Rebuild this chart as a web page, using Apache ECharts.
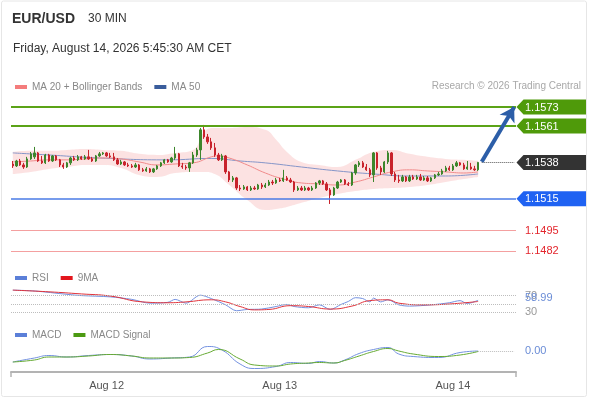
<!DOCTYPE html>
<html><head><meta charset="utf-8">
<script src="https://cdn.jsdelivr.net/npm/echarts@6/dist/echarts.min.js"></script>
<style>html,body{margin:0;padding:0;background:#fff}#c{width:590px;height:400px}</style>
</head><body><div id="c"></div>
<script>
// ---------- DATA ----------
const opens = [
1.15370,1.15358,1.15389,1.15364,1.15351,1.15402,1.15415,1.15440,1.15389,1.15377,
1.15427,1.15389,1.15421,1.15396,1.15364,1.15351,1.15377,1.15408,1.15396,1.15415,
1.15402,1.15415,1.15402,1.15389,1.15421,1.15434,1.15440,1.15421,1.15415,1.15396,
1.15370,1.15383,1.15364,1.15358,1.15351,1.15364,1.15333,1.15326,1.15339,1.15320,
1.15339,1.15358,1.15377,1.15396,1.15383,1.15408,1.15434,1.15358,1.15351,1.15345,
1.15377,1.15427,1.15459,1.15586,1.15541,1.15510,1.15472,1.15427,1.15396,1.15421,
1.15320,1.15269,1.15282,1.15218,1.15212,1.15225,1.15206,1.15218,1.15212,1.15237,
1.15225,1.15237,1.15256,1.15250,1.15269,1.15263,1.15282,1.15269,1.15256,1.15206,
1.15218,1.15206,1.15218,1.15206,1.15218,1.15250,1.15263,1.15244,1.15206,1.15174,
1.15218,1.15256,1.15269,1.15244,1.15237,1.15313,1.15364,1.15377,1.15351,1.15333,
1.15301,1.15440,1.15345,1.15320,1.15383,1.15440,1.15307,1.15269,1.15263,1.15288,
1.15263,1.15288,1.15275,1.15288,1.15269,1.15282,1.15263,1.15282,1.15301,1.15307,
1.15326,1.15345,1.15333,1.15358,1.15377,1.15364,1.15339,1.15351,1.15339,1.15333];
const closes = [
1.15358,1.15389,1.15364,1.15351,1.15402,1.15434,1.15440,1.15389,1.15377,1.15427,
1.15389,1.15421,1.15396,1.15364,1.15351,1.15377,1.15408,1.15396,1.15415,1.15402,
1.15415,1.15402,1.15389,1.15421,1.15434,1.15440,1.15421,1.15415,1.15396,1.15370,
1.15383,1.15364,1.15358,1.15351,1.15364,1.15333,1.15326,1.15339,1.15320,1.15339,
1.15358,1.15377,1.15396,1.15383,1.15408,1.15434,1.15358,1.15351,1.15345,1.15377,
1.15427,1.15459,1.15586,1.15541,1.15510,1.15472,1.15427,1.15396,1.15421,1.15320,
1.15269,1.15282,1.15218,1.15212,1.15225,1.15206,1.15218,1.15212,1.15237,1.15225,
1.15237,1.15256,1.15250,1.15269,1.15263,1.15282,1.15269,1.15256,1.15206,1.15218,
1.15206,1.15218,1.15206,1.15218,1.15250,1.15263,1.15244,1.15206,1.15174,1.15218,
1.15256,1.15269,1.15244,1.15237,1.15313,1.15364,1.15377,1.15351,1.15333,1.15301,
1.15440,1.15345,1.15320,1.15383,1.15440,1.15307,1.15269,1.15263,1.15288,1.15263,
1.15288,1.15275,1.15288,1.15269,1.15282,1.15263,1.15282,1.15301,1.15307,1.15326,
1.15345,1.15333,1.15358,1.15377,1.15364,1.15339,1.15351,1.15339,1.15333,1.15380];
const lows = [
1.15345,1.15351,1.15358,1.15339,1.15345,1.15396,1.15402,1.15383,1.15370,1.15370,
1.15383,1.15383,1.15389,1.15351,1.15339,1.15345,1.15364,1.15389,1.15389,1.15396,
1.15396,1.15396,1.15383,1.15383,1.15415,1.15427,1.15415,1.15408,1.15389,1.15364,
1.15364,1.15358,1.15351,1.15345,1.15345,1.15326,1.15320,1.15320,1.15313,1.15313,
1.15333,1.15351,1.15370,1.15377,1.15377,1.15396,1.15351,1.15339,1.15333,1.15320,
1.15370,1.15415,1.15396,1.15529,1.15497,1.15459,1.15415,1.15389,1.15389,1.15307,
1.15256,1.15256,1.15206,1.15199,1.15206,1.15199,1.15199,1.15206,1.15206,1.15212,
1.15218,1.15231,1.15237,1.15244,1.15256,1.15256,1.15263,1.15250,1.15193,1.15199,
1.15199,1.15199,1.15199,1.15199,1.15212,1.15237,1.15237,1.15199,1.15117,1.15168,
1.15212,1.15250,1.15237,1.15231,1.15231,1.15301,1.15351,1.15345,1.15326,1.15288,
1.15256,1.15333,1.15301,1.15313,1.15370,1.15294,1.15256,1.15250,1.15256,1.15256,
1.15256,1.15269,1.15269,1.15263,1.15263,1.15256,1.15256,1.15275,1.15294,1.15301,
1.15320,1.15326,1.15326,1.15351,1.15358,1.15333,1.15333,1.15333,1.15326,1.15326];
const highs = [
1.15389,1.15396,1.15402,1.15377,1.15415,1.15446,1.15478,1.15446,1.15421,1.15434,
1.15434,1.15427,1.15427,1.15402,1.15377,1.15383,1.15415,1.15421,1.15427,1.15421,
1.15427,1.15459,1.15415,1.15427,1.15446,1.15446,1.15446,1.15440,1.15440,1.15408,
1.15396,1.15389,1.15377,1.15370,1.15377,1.15370,1.15345,1.15351,1.15345,1.15345,
1.15364,1.15383,1.15402,1.15402,1.15415,1.15478,1.15440,1.15377,1.15364,1.15383,
1.15446,1.15472,1.15598,1.15617,1.15560,1.15535,1.15503,1.15440,1.15434,1.15427,
1.15326,1.15294,1.15288,1.15237,1.15237,1.15231,1.15231,1.15231,1.15244,1.15250,
1.15250,1.15269,1.15269,1.15282,1.15282,1.15333,1.15294,1.15282,1.15263,1.15231,
1.15231,1.15231,1.15225,1.15231,1.15256,1.15269,1.15269,1.15256,1.15218,1.15225,
1.15263,1.15275,1.15275,1.15256,1.15320,1.15370,1.15389,1.15389,1.15370,1.15345,
1.15446,1.15446,1.15358,1.15389,1.15453,1.15446,1.15320,1.15301,1.15301,1.15294,
1.15301,1.15301,1.15301,1.15307,1.15294,1.15294,1.15288,1.15307,1.15320,1.15339,
1.15358,1.15358,1.15370,1.15389,1.15383,1.15377,1.15389,1.15377,1.15358,1.15383];

// Bollinger bands (read at these candle indices)
const bandIdx = [0,5,10,15,20,25,30,35,40,45,50,53,56,60,65,70,73,76,80,85,90,95,100,105,110,115,120,125,129];
const bbUpper = [1.15446,1.15453,1.15453,1.15459,1.15465,1.15459,1.15453,1.15434,1.15427,1.15440,1.15459,1.15573,1.15598,1.15598,1.15604,1.15586,1.15523,1.15446,1.15383,1.15364,1.15351,1.15396,1.15446,1.15459,1.15434,1.15415,1.15402,1.15396,1.15389];
const bbLower = [1.15307,1.15320,1.15339,1.15351,1.15364,1.15364,1.15345,1.15301,1.15288,1.15313,1.15320,1.15320,1.15307,1.15237,1.15142,1.15079,1.15086,1.15098,1.15124,1.15155,1.15180,1.15199,1.15212,1.15218,1.15225,1.15237,1.15256,1.15275,1.15288];
const ma20Idx = [0,5,10,15,20,25,30,35,40,45,50,55,57,60,65,70,75,80,85,90,95,100,105,110,115,120,125,129];
const ma20 = [1.15383,1.15389,1.15396,1.15396,1.15402,1.15408,1.15402,1.15383,1.15364,1.15370,1.15377,1.15415,1.15421,1.15408,1.15364,1.15313,1.15275,1.15250,1.15244,1.15237,1.15256,1.15288,1.15320,1.15333,1.15326,1.15320,1.15313,1.15320];
const ma50Idx = [0,10,24,43,55,63,70,80,90,100,110,120,129];
const ma50 = [1.15440,1.15427,1.15408,1.15396,1.15405,1.15389,1.15377,1.15351,1.15326,1.15307,1.15294,1.15294,1.15307];

// RSI panel
const rsiIdx = [0,6,15,19,27,33,38,43,45,48,52,55,59,62,65,69,73,76,78,82,85,88,91,93,95,97,99,100,102,104,107,110,116,121,124,126,129];
const rsi = [83,81,73,70,67,61,52,54,61,52,71,63,48,34,37,38,44,49,44,41,48,37,49,56,65,63,55,64,55,60,48,45,48,53,58,51,58.99];
const rsiMaIdx = [0,10,19,27,36,43,48,55,59,63,67,71,77,82,88,94,99,104,107,114,121,129];
const rsiMa = [83,79,74,69,55,53,55,60,55,44,36,37,46,44,38,45,58,60,52,48,50,56];
const rsiLevels = [70, 50, 30];

// MACD panel
const macdIdx = [0,6,10,15,21,27,33,38,44,49,54,58,63,67,73,77,82,85,89,92,96,100,104,107,111,118,124,129];
const macd = [-0.00022,-0.00014,-0.00009,-0.00012,-0.00009,-0.00007,-0.00010,-0.00016,-0.00014,-0.00012,0.00009,0.00002,-0.00026,-0.00035,-0.00031,-0.00023,-0.00025,-0.00021,-0.00024,-0.00018,-0.00005,0.00003,0.00007,-0.00006,-0.00011,-0.00013,-0.00003,0.00000];
const signalIdx = [0,6,10,15,21,27,33,38,44,49,54,57,63,67,73,77,82,85,89,92,96,100,104,107,111,118,124,129];
const macdSignal = [-0.00022,-0.00018,-0.00012,-0.00012,-0.00010,-0.00007,-0.00010,-0.00014,-0.00014,-0.00013,-0.00004,0.00003,-0.00016,-0.00028,-0.00030,-0.00026,-0.00024,-0.00023,-0.00024,-0.00019,-0.00010,-0.00001,0.00005,0.00000,-0.00006,-0.00011,-0.00008,-0.00001];

// Key levels
const levelValues = [1.1573, 1.1561, 1.1538, 1.1515, 1.1495, 1.1482];
const levelKinds  = ['res', 'res', 'last', 'sup', 'low', 'low'];
const arrowFrom = [130, 1.15384];
const arrowTo   = [139, 1.15730];

// Time slots (30 min)
const nSlots = 140;
const monthNames = ['Jan','Feb','Mar','Apr','May','Jun','Jul','Aug','Sep','Oct','Nov','Dec'];
const startMs = Date.UTC(2026, 7, 11, 11, 0);
const categories = [];
for (let k = 0; k < nSlots; k++) {
  const d = new Date(startMs + k * 1800000);
  const hh = String(d.getUTCHours()).padStart(2,'0'), mm = String(d.getUTCMinutes()).padStart(2,'0');
  categories.push(monthNames[d.getUTCMonth()] + ' ' + d.getUTCDate() + ' ' + hh + ':' + mm);
}

// ---------- CHART ----------
const FONT = 'Arial, "Liberation Sans", sans-serif';
const pairs = (idx, vals) => idx.map((x, k) => [x, vals[k]]);
const candleData = opens.map((o, i) => [o, closes[i], lows[i], highs[i]]);
const bandWidth = bbUpper.map((u, k) => u - bbLower[k]);

const kindStyle = {
  res:  {line:'#5ba317', width:2, box:'#4f9a0a', text:'#fff'},
  last: {line:'#444', width:1, box:'#333333', text:'#fff'},
  sup:  {line:'#4a7be6', width:1.5, box:'#1f62f2', text:'#fff'},
  low:  {line:'#f4a0a0', width:1, box:null, text:'#e3262d'}
};
const firstIdx = 0, lastIdx = nSlots - 1;
const levelMarks = [];
levelValues.forEach((v, k) => {
  const s = kindStyle[levelKinds[k]];
  if (levelKinds[k] === 'last') {
    levelMarks.push([{coord:[130, v], lineStyle:{color:'#555', width:1, type:'dotted'}}, {coord:[lastIdx, v]}]);
  } else {
    levelMarks.push([{coord:[firstIdx, v], x:11, lineStyle:{color:s.line, width:s.width, type:'solid'}}, {coord:[lastIdx, v], x:516}]);
  }
});
levelMarks.push([
  {coord: arrowFrom, symbol:'none', lineStyle:{color:'#2c5ea8', width:4, type:'solid'}},
  {coord: arrowTo, symbol:'arrow', symbolSize:[13,14]}
]);

const chart = echarts.init(document.getElementById('c'));
const gridL = 11, gridW = 505;
const xBase = {type:'category', data:categories, boundaryGap:true};
const legendBase = {left:15, icon:'rect', itemWidth:12, itemHeight:4, itemGap:12, selectedMode:false, padding:0,
  textStyle:{fontSize:10, color:'#888', fontFamily:FONT}};
const option = {
  animation:false,
  textStyle:{fontFamily:FONT},
  grid:[
    {left:gridL, width:gridW, top:96, height:166},
    {left:gridL, width:gridW, top:283, height:42},
    {left:gridL, width:gridW, top:338, height:34}
  ],
  xAxis:[
    Object.assign({gridIndex:0, show:false}, xBase),
    Object.assign({gridIndex:1, show:false}, xBase),
    Object.assign({gridIndex:2,
      axisLine:{show:true, onZero:false, lineStyle:{color:'#b3b3b3', width:2}},
      axisTick:{show:false},
      splitLine:{show:false},
      axisLabel:{
        interval:(i, v) => v.endsWith('00:00'),
        formatter:(v) => v.split(' ').slice(0,2).join(' '),
        color:'#555', fontSize:11, margin:8, fontFamily:FONT
      }}, xBase)
  ],
  yAxis:[
    {gridIndex:0, type:'value', min:1.1475, max:1.1580, show:false},
    {gridIndex:1, type:'value', min:0, max:100, show:false},
    {gridIndex:2, type:'value', min:-0.00042, max:0.00026, show:false}
  ],
  legend:[
    Object.assign({top:82, data:[{name:'MA 20 + Bollinger Bands', itemStyle:{color:'#f47c7c'}}, {name:'MA 50', itemStyle:{color:'#3a5d9c'}}]}, legendBase),
    Object.assign({top:273, data:[{name:'RSI', itemStyle:{color:'#5b7fd8'}}, {name:'9MA', itemStyle:{color:'#e3161d'}}]}, legendBase),
    Object.assign({top:330, data:[{name:'MACD', itemStyle:{color:'#5b7fd8'}}, {name:'MACD Signal', itemStyle:{color:'#4c9a12'}}]}, legendBase)
  ],
  series:[
    {name:'bbLower', type:'line', xAxisIndex:0, yAxisIndex:0, stack:'bb', data:pairs(bandIdx, bbLower),
     smooth:true, symbol:'none', lineStyle:{opacity:0}, silent:true, z:1},
    {name:'bbWidth', type:'line', xAxisIndex:0, yAxisIndex:0, stack:'bb', data:pairs(bandIdx, bandWidth),
     smooth:true, symbol:'none', lineStyle:{opacity:0}, areaStyle:{color:'rgba(248,185,185,0.42)', opacity:1}, silent:true, z:1},
    {name:'MA 50', type:'line', xAxisIndex:0, yAxisIndex:0, data:pairs(ma50Idx, ma50), smooth:true, symbol:'none',
     lineStyle:{color:'#8595c8', width:1}, itemStyle:{color:'#3a5d9c'}, z:2},
    {name:'MA 20 + Bollinger Bands', type:'line', xAxisIndex:0, yAxisIndex:0, data:pairs(ma20Idx, ma20), smooth:true, symbol:'none',
     lineStyle:{color:'#f08a8a', width:1}, itemStyle:{color:'#f47c7c'}, z:2},
    {name:'EUR/USD', type:'candlestick', xAxisIndex:0, yAxisIndex:0, data:candleData, barMaxWidth:3, z:3,
     itemStyle:{color:'#3d862c', color0:'#c8232c', borderColor:'#3d862c', borderColor0:'#c8232c', borderWidth:1}},
    {name:'levels', type:'line', xAxisIndex:0, yAxisIndex:0, data:[], symbol:'none', silent:true, z:4,
     markLine:{silent:true, symbol:['none','none'], label:{show:false}, animation:false, z:4, data:levelMarks}},
    {name:'RSI', type:'line', xAxisIndex:1, yAxisIndex:1, data:pairs(rsiIdx, rsi), smooth:0.3, symbol:'none',
     lineStyle:{color:'#7391e0', width:1}, itemStyle:{color:'#5b7fd8'},
     markLine:{silent:true, symbol:['none','none'], label:{show:false}, animation:false,
       lineStyle:{color:'#bdbdbd', width:1, type:'dotted'},
       data:rsiLevels.map(v => ({yAxis:v}))}},
    {name:'9MA', type:'line', xAxisIndex:1, yAxisIndex:1, data:pairs(rsiMaIdx, rsiMa), smooth:true, symbol:'none',
     lineStyle:{color:'#e0323a', width:1}, itemStyle:{color:'#e3161d'}},
    {name:'MACD', type:'line', xAxisIndex:2, yAxisIndex:2, data:pairs(macdIdx, macd), smooth:true, symbol:'none',
     lineStyle:{color:'#7391e0', width:1}, itemStyle:{color:'#5b7fd8'},
     markLine:{silent:true, symbol:['none','none'], label:{show:false}, animation:false,
       lineStyle:{color:'#bdbdbd', width:1, type:'dotted'},
       data:[[{coord:[macdIdx[macdIdx.length-1], 0]}, {coord:[nSlots-1, 0]}]]}},
    {name:'MACD Signal', type:'line', xAxisIndex:2, yAxisIndex:2, data:pairs(signalIdx, macdSignal), smooth:true, symbol:'none',
     lineStyle:{color:'#66aa33', width:1}, itemStyle:{color:'#4c9a12'}}
  ]
};
chart.setOption(option);

// ---------- text / label graphics (positions from the chart's own scales) ----------
const gfx = [];
let gid = 0;
const nid = () => 'g' + (gid++);
gfx.push({id:nid(), type:'rect', shape:{x:1.5, y:1, width:585, height:395.5, r:2}, style:{fill:'none', stroke:'#e6e6e6', lineWidth:1}, silent:true});
gfx.push({id:nid(), type:'text', style:{text:'EUR/USD', x:12, y:19, fill:'#333', font:'bold 14px ' + FONT, verticalAlign:'middle'}});
gfx.push({id:nid(), type:'text', style:{text:'30 MIN', x:88, y:19, fill:'#333', font:'12px ' + FONT, verticalAlign:'middle'}});
gfx.push({id:nid(), type:'text', style:{text:'Friday, August 14, 2026 5:45:30 AM CET', x:13, y:49, fill:'#333', font:'12px ' + FONT, verticalAlign:'middle'}});
gfx.push({id:nid(), type:'text', style:{text:'Research \u00A9 2026 Trading Central', x:581, y:86, fill:'#a8a8a8', font:'10px ' + FONT, verticalAlign:'middle', align:'right'}});
// end ticks of the x axis
const axisY = 338 + 34;
[gridL, gridL + gridW].forEach(x => gfx.push({id:nid(), type:'line', shape:{x1:x, y1:axisY, x2:x, y2:axisY + 5}, style:{stroke:'#b3b3b3', lineWidth:1.5}}));

const boxL = gridL + gridW + 0.5, boxR = 586, hh = 7.5;
levelValues.forEach((v, k) => {
  const s = kindStyle[levelKinds[k]];
  const y = chart.convertToPixel({yAxisIndex:0}, v);
  if (s.box) {
    gfx.push({id:nid(), type:'polygon', shape:{points:[[boxL, y], [boxL + 7, y - hh], [boxR, y - hh], [boxR, y + hh], [boxL + 7, y + hh]]},
      style:{fill:s.box}});
  }
  gfx.push({id:nid(), type:'text', style:{text:v.toFixed(4), x:525, y:y + 0.5, fill:s.text, font:'11px ' + FONT, verticalAlign:'middle'}});
});
[70, 30].forEach(v => {
  const y = chart.convertToPixel({yAxisIndex:1}, v);
  gfx.push({id:nid(), type:'text', style:{text:String(v), x:525, y:y, fill:'#9a9a9a', font:'11px ' + FONT, verticalAlign:'middle'}});
});
const rsiLast = rsi[rsi.length - 1];
gfx.push({id:nid(), type:'text', style:{text:rsiLast.toFixed(2), x:525, y:chart.convertToPixel({yAxisIndex:1}, rsiLast) - 2, fill:'#6a8cd6', font:'11px ' + FONT, verticalAlign:'middle'}});
const macdLast = macd[macd.length - 1];
gfx.push({id:nid(), type:'text', style:{text:macdLast.toFixed(2), x:525, y:chart.convertToPixel({yAxisIndex:2}, macdLast), fill:'#6a8cd6', font:'11px ' + FONT, verticalAlign:'middle'}});
chart.setOption({graphic: gfx});
</script></body></html>
